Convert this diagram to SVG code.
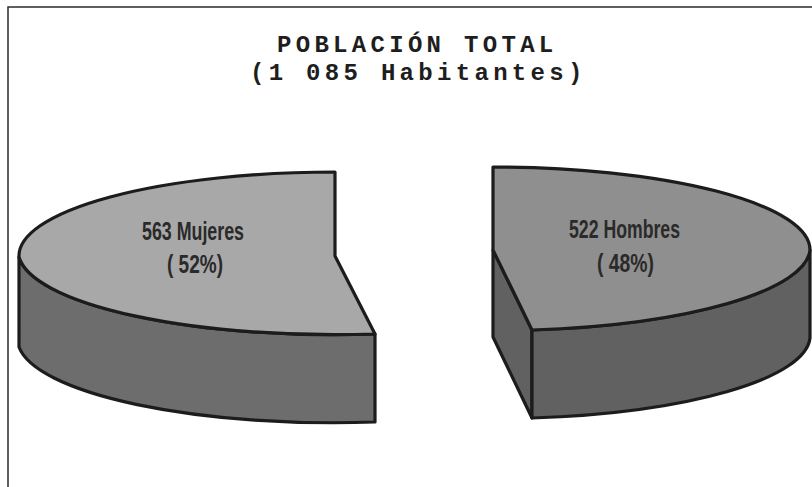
<svg xmlns="http://www.w3.org/2000/svg" width="812" height="487" viewBox="0 0 812 487">
  <style>
    .edge { stroke: #1c1c1c; stroke-width: 3.2; stroke-linejoin: round; }
    .title { font-family: "Liberation Mono", "DejaVu Sans Mono", monospace; font-size: 24px; font-weight: bold; fill: #1e1e1e; letter-spacing: 4.3px; }
    .lbl { font-family: "Liberation Sans", Arial, sans-serif; font-size: 25px; font-weight: bold; fill: #2a2a2a; }
  </style>
  <rect x="0" y="0" width="812" height="487" fill="#ffffff"/>
  <rect id="frame" x="8" y="7" width="830" height="500" fill="none" stroke="#2b2b2b" stroke-width="1.5"/>

  <g id="title">
    <text class="title" x="277" y="52">POBLACIÓN TOTAL</text>
    <text class="title" x="250" y="80">(1 085 Habitantes)</text>
  </g>

  <g id="slice-mujeres">
    <path class="edge" fill="#6d6d6d" d="M19,257 A316,84 0 0 0 375,334 L375,422 A316,84 0 0 1 19,347 Z"/>
    <path class="edge" fill="#a8a8a8" d="M335,256 L335,172 A316,84 0 0 0 19,257 A316,84 0 0 0 375,334 Z"/>
    <text class="lbl" x="142" y="240" textLength="102" lengthAdjust="spacingAndGlyphs">563 Mujeres</text>
    <text class="lbl" x="167" y="273" textLength="56" lengthAdjust="spacingAndGlyphs">( 52%)</text>
  </g>

  <g id="slice-hombres">
    <path class="edge" fill="#616161" d="M493,250 L532,330 L532,418 L493,337 Z"/>
    <path class="edge" fill="#616161" d="M810,250 A317,83 0 0 1 532,330 L532,418 A317,83 0 0 0 810,338 Z"/>
    <path class="edge" fill="#8f8f8f" d="M493,250 L493,167 A317,83 0 0 1 810,250 A317,83 0 0 1 532,330 Z"/>
    <text class="lbl" x="569" y="238" textLength="111" lengthAdjust="spacingAndGlyphs">522 Hombres</text>
    <text class="lbl" x="597" y="272" textLength="57" lengthAdjust="spacingAndGlyphs">( 48%)</text>
  </g>
</svg>
